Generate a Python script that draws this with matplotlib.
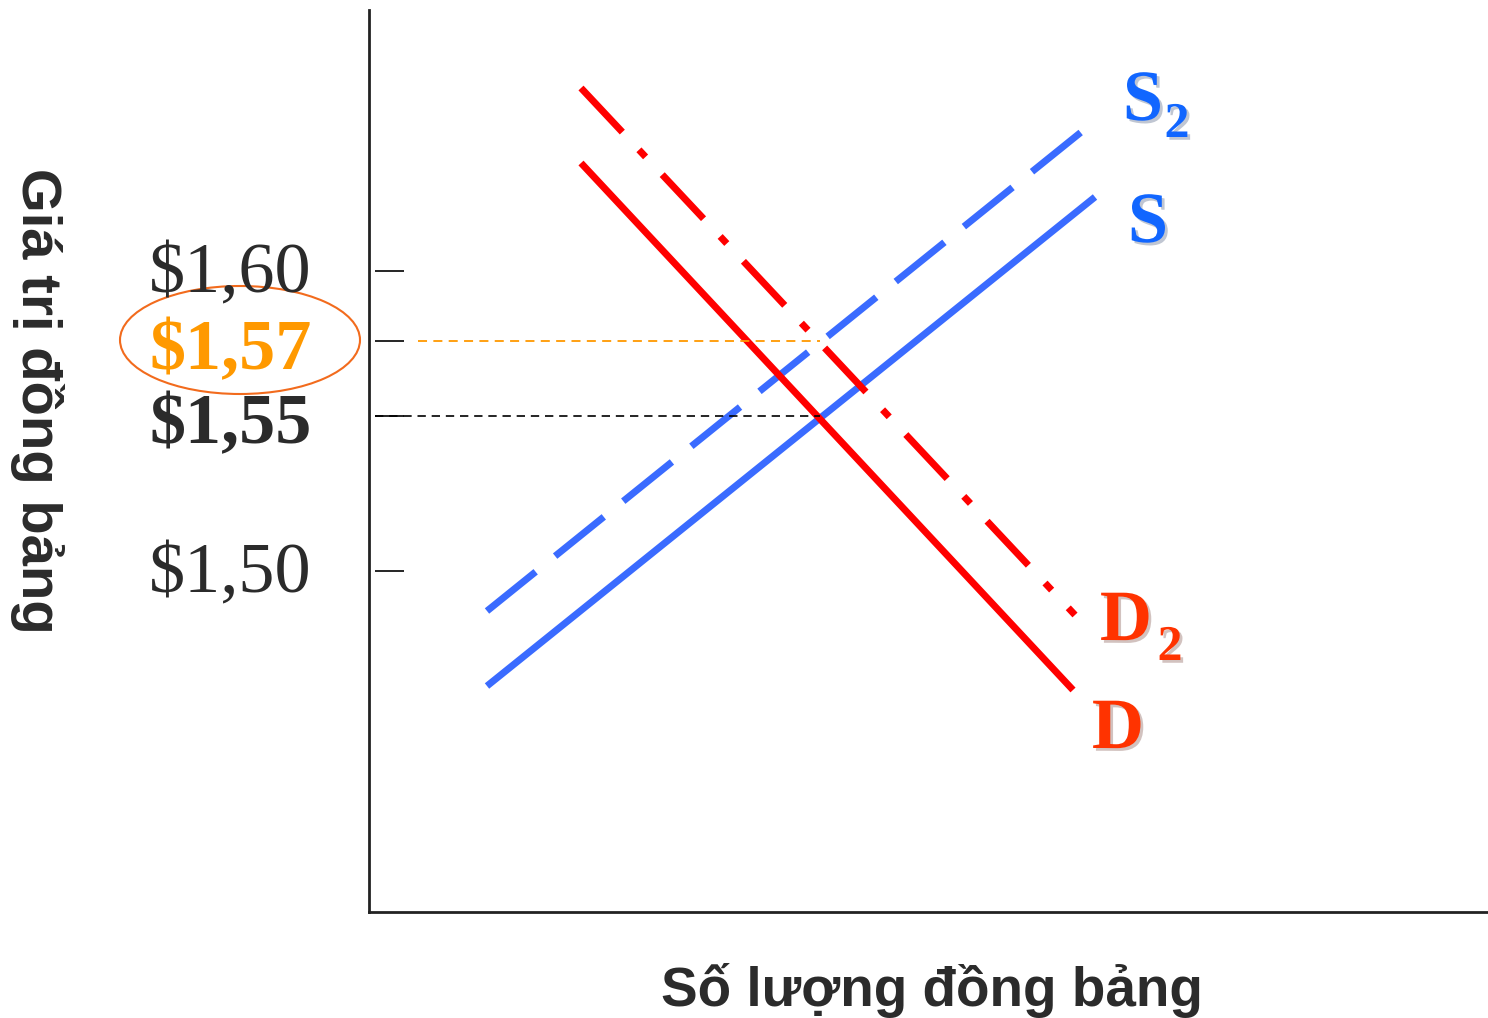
import matplotlib
matplotlib.use("Agg")
import matplotlib.pyplot as plt
import matplotlib.patheffects as pe
from matplotlib.patches import Ellipse

# chart units: quantity 0..111.9 across, position 0..90.2 up (schematic axes)
s_x = [11.8, 72.6]
s_y = [22.6, 71.5]
s2_x = [11.8, 71.6]
s2_y = [30.1, 78.3]
d_x = [21.2, 70.4]
d_y = [74.9, 22.2]
d2_x = [21.2, 70.6]
d2_y = [82.4, 29.7]

price_labels = ["$1,60", "$1,57", "$1,55", "$1,50"]
price_pos = [64.1, 57.1, 49.6, 34.1]
eq_q = 45.1          # where both pairs of curves cross
eq_old = 49.6        # $1,55
eq_new = 57.1        # $1,57

blue = "#3a6bff"
red = "#ff0000"
orange = "#ff9900"
dark = "#2b2b2b"

fig = plt.figure(figsize=(14.88, 10.18), dpi=100)
ax = fig.add_axes([369/1488, 106/1018, 1119/1488, 902/1018])
ax.set_xlim(0, 111.9)
ax.set_ylim(0, 90.2)
for side in ["top", "right"]:
    ax.spines[side].set_visible(False)
for side in ["left", "bottom"]:
    ax.spines[side].set_linewidth(2)
    ax.spines[side].set_color("#222222")
ax.set_xticks([])
ax.set_yticks([])

# supply / demand curves
ax.plot(s_x, s_y, color=blue, lw=5, solid_capstyle="butt")
ln, = ax.plot(s2_x, s2_y, color=blue, lw=5)
ln.set_dashes((9, 3.6))
ln.set_dash_capstyle("butt")
ax.plot(d_x, d_y, color=red, lw=5, solid_capstyle="butt")
ln, = ax.plot(d2_x, d2_y, color=red, lw=5)
ln.set_dashes((8.7, 3.5, 1.4, 3.5))
ln.set_dash_capstyle("butt")

# equilibrium guides
ax.plot([0.6, eq_q], [eq_old, eq_old], color="black", lw=1.2, dashes=(5, 3.5))
ax.plot([4.9, eq_q], [eq_new, eq_new], color=orange, lw=1.3, dashes=(5, 3.5))

# detached tick marks
ax.hlines(price_pos, 0.6, 3.5, color="black", lw=1.2)

styles = [("normal", dark), ("bold", orange), ("bold", dark), ("normal", dark)]
base_drop = [2.1, 2.8, 2.7, 2.1]
for lab, y, dy, (w, c) in zip(price_labels, price_pos, base_drop, styles):
    ax.text(-5.7, y - dy, lab, ha="right", va="baseline", fontsize=52,
            family="Liberation Serif", fontweight=w, color=c, clip_on=False)

ell = Ellipse((-12.9, 57.2), 24.0, 10.8, fill=False, edgecolor="#f26b1d",
              lw=1.5, clip_on=False)
ax.add_patch(ell)

shadow = [pe.SimplePatchShadow(offset=(2, -2), alpha=0.25), pe.Normal()]
curve_labels = [
    ("S", 77.4, 79.2, "#1166ff", 52),
    ("2", 80.8, 77.5, "#1166ff", 36),
    ("S", 77.9, 67.0, "#1166ff", 52),
    ("D", 75.7, 27.2, "#ff3300", 52),
    ("2", 80.1, 25.2, "#ff3300", 36),
    ("D", 74.9, 16.4, "#ff3300", 52),
]
for t, x, y, c, fs in curve_labels:
    ax.text(x, y, t, ha="center", va="baseline", fontsize=fs, fontweight="bold",
            family="Liberation Serif", color=c, path_effects=shadow, clip_on=False)

fig.text(932/1488, 1 - 990/1018, "Số lượng đồng bảng", ha="center", va="center",
         fontsize=39.5, fontweight="bold", family="Liberation Sans", color=dark)
fig.text(37/1488, 1 - 401/1018, "Giá trị đồng bảng", ha="center", va="center",
         rotation=-90, fontsize=40.5, fontweight="bold", family="Liberation Sans",
         color=dark)

fig.savefig("out.png", dpi=100)
